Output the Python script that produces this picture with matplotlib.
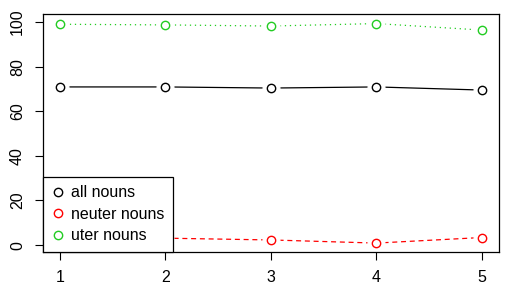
import matplotlib.pyplot as plt

plt.rcParams['font.family'] = ['Liberation Sans', 'DejaVu Sans']

x = [1, 2, 3, 4, 5]
all_nouns = [70.9, 70.9, 70.4, 70.9, 69.5]
neuter_nouns = [3.0, 3.1, 2.3, 0.9, 3.4]
uter_nouns = [99.0, 98.7, 98.2, 99.3, 96.4]

series = [
    ('all nouns', all_nouns, 'black', '-'),
    ('neuter nouns', neuter_nouns, 'red', (0, (4, 3))),
    ('uter nouns', uter_nouns, '#22cc22', (0, (1, 3))),
]

fig = plt.figure(figsize=(5.1, 2.97), dpi=100)
ax = fig.add_axes([0.0843, 0.1515, 0.8937, 0.8014])

handles = []
for label, vals, col, ls in series:
    ax.plot(x, vals, color=col, linestyle=ls, linewidth=0.9, zorder=1)
    # white discs leave a gap round each point, like R type="b"
    ax.plot(x, vals, linestyle='none', marker='o', markersize=12,
            markerfacecolor='white', markeredgecolor='white', zorder=2)
    h, = ax.plot(x, vals, linestyle='none', marker='o', markersize=6,
                 markerfacecolor='none', markeredgecolor=col,
                 markeredgewidth=1.0, zorder=3, label=label)
    handles.append(h)

ax.set_xlim(0.84, 5.16)
ax.set_ylim(-3.1, 103.6)
ax.set_xticks(x)
ax.set_yticks([0, 20, 40, 60, 80, 100])
ax.tick_params(direction='out', length=6, width=0.8, labelsize=11.5, pad=7)
for lab in ax.get_yticklabels():
    lab.set_rotation(90)
    lab.set_va('center')
for sp in ax.spines.values():
    sp.set_linewidth(0.9)

leg = ax.legend(handles=handles, loc='lower left', bbox_to_anchor=(0, 0),
                borderaxespad=0, fancybox=False, edgecolor='black',
                framealpha=1, fontsize=11.5, handlelength=0.8,
                handletextpad=0.4, borderpad=0.55, labelspacing=0.4)
leg.get_frame().set_linewidth(0.9)
leg.set_zorder(5)

fig.savefig('out.png', dpi=100)
